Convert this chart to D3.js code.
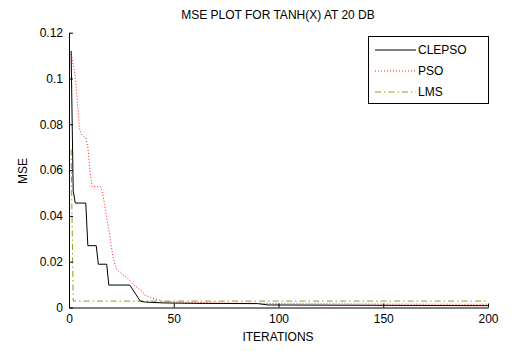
<!DOCTYPE html>
<html>
<head>
<meta charset="utf-8">
<script src="https://cdn.jsdelivr.net/npm/d3@7"></script>
<style>
  html, body { margin: 0; padding: 0; background: #fff; }
  svg text { font-family: "Liberation Sans", Arial, sans-serif; font-size: 12px; fill: #000; }
</style>
</head>
<body>
<svg id="chart" width="512" height="351"></svg>
<script>
// MSE convergence curves, sampled at the iterations where each curve changes slope
const clepsoIter = [1, 2, 3, 8, 9, 13, 14, 18, 19, 29, 34, 36, 45, 60, 90, 95, 200];
const clepsoMse  = [0.112, 0.051, 0.0456, 0.0456, 0.027, 0.027, 0.0189, 0.0189, 0.0098, 0.0098,
                    0.0028, 0.0024, 0.002, 0.0018, 0.0017, 0.0011, 0.0008];

const psoIter = [1, 2, 3, 4, 5, 6, 8, 9, 10, 11, 15, 16, 17, 18, 19, 20, 21, 22, 23, 25, 28,
                 31, 33, 35, 36, 40, 43, 45, 55, 70, 100, 150, 200];
const psoMse  = [0.112, 0.106, 0.101, 0.09, 0.078, 0.0755, 0.074, 0.07, 0.06, 0.0528, 0.0528, 0.05,
                 0.045, 0.039, 0.034, 0.028, 0.022, 0.0186, 0.0164, 0.0148, 0.0128,
                 0.0098, 0.0084, 0.0069, 0.0055, 0.004, 0.0033, 0.0026, 0.0023, 0.002,
                 0.0017, 0.0015, 0.0014];

const lmsIter = [1, 2, 200];
const lmsMse  = [0.069, 0.0028, 0.0028];

const xTicks = [0, 50, 100, 150, 200];
const yTicks = [0, 0.02, 0.04, 0.06, 0.08, 0.1, 0.12];
const seriesNames = ["CLEPSO", "PSO", "LMS"];

const svg = d3.select("#chart");

const x = d3.scaleLinear().domain([0, 200]).range([69, 488]);
const y = d3.scaleLinear().domain([0, 0.12]).range([307.5, 32.7]);

const styles = {
  CLEPSO: { color: "#000000", dash: null, width: 1 },
  PSO:    { color: "#ff1a1a", dash: "1,2", width: 1 },
  LMS:    { color: "#9a9a10", dash: "6,3,1.5,3", width: 1 }
};

const series = [
  { name: "CLEPSO", pts: d3.zip(clepsoIter, clepsoMse) },
  { name: "PSO",    pts: d3.zip(psoIter, psoMse) },
  { name: "LMS",    pts: d3.zip(lmsIter, lmsMse) }
];

const line = d3.line().x(d => x(d[0])).y(d => y(d[1]));

// Draw in reverse so the black curve sits on top
series.slice().reverse().forEach(s => {
  const st = styles[s.name];
  svg.append("path")
    .datum(s.pts)
    .attr("fill", "none")
    .attr("stroke", st.color)
    .attr("stroke-width", st.width)
    .attr("stroke-dasharray", st.dash)
    .attr("d", line);
});

// Axes: ticks point into the plot area, no box
const xAxis = d3.axisBottom(x).tickValues(xTicks).tickFormat(d3.format("d"))
  .tickSizeInner(-4).tickSizeOuter(0).tickPadding(8);
const yAxis = d3.axisLeft(y).tickValues(yTicks).tickFormat(d => d === 0 ? "0" : d3.format("")(+d.toFixed(2)))
  .tickSizeInner(-4).tickSizeOuter(0).tickPadding(8);

const gx = svg.append("g").attr("transform", `translate(0,${y(0)})`).call(xAxis);
const gy = svg.append("g").attr("transform", `translate(${x(0)},0)`).call(yAxis);
[gx, gy].forEach(g => {
  g.selectAll("path.domain").attr("stroke", "#000").attr("stroke-width", 1);
  g.selectAll(".tick line").attr("stroke", "#000");
  g.selectAll(".tick text").style("font-family", '"Liberation Sans", Arial, sans-serif').style("font-size", "12px").attr("fill", "#000");
});
gx.selectAll(".tick text").attr("dy", "0.6em");
gy.selectAll(".tick text").attr("dx", "2");

// Title and axis labels
svg.append("text").attr("x", 278).attr("y", 19).attr("text-anchor", "middle")
  .text("MSE PLOT FOR TANH(X) AT 20 DB");
svg.append("text").attr("x", 278).attr("y", 341).attr("text-anchor", "middle")
  .text("ITERATIONS");
svg.append("text").attr("transform", "translate(27,171) rotate(-90)").attr("text-anchor", "middle")
  .text("MSE");

// Legend
const lg = svg.append("g");
lg.append("rect").attr("x", 368.5).attr("y", 36.5).attr("width", 120).attr("height", 67)
  .attr("fill", "#fff").attr("stroke", "#000").attr("stroke-width", 1);
const legendY = d3.scalePoint().domain(seriesNames).range([50, 92]);
seriesNames.forEach(n => {
  const st = styles[n];
  const yy = legendY(n);
  lg.append("line").attr("x1", 375).attr("x2", 416).attr("y1", yy).attr("y2", yy)
    .attr("stroke", st.color).attr("stroke-width", st.width).attr("stroke-dasharray", st.dash);
  lg.append("text").attr("x", 418).attr("y", yy).attr("dy", "0.35em").text(n);
});
</script>
</body>
</html>
